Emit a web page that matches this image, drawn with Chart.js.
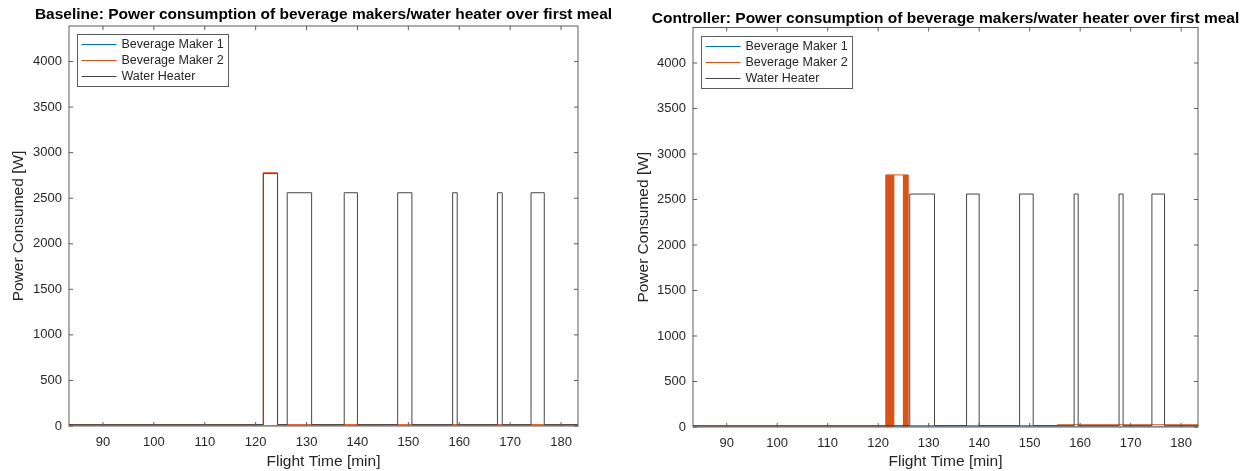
<!DOCTYPE html>
<html>
<head>
<meta charset="utf-8">
<script src="https://cdn.jsdelivr.net/npm/chart.js@4.4.0/dist/chart.umd.min.js"></script>
<style>
  html, body { margin: 0; padding: 0; background: #fff; }
  #wrap { position: relative; width: 1247px; height: 471px; overflow: hidden; }
  canvas { position: absolute; top: 0; }
  #baseline { left: 0; }
  #controller { left: 620px; }
</style>
</head>
<body>
<div id="wrap">
  <canvas id="baseline" width="620" height="471"></canvas>
  <canvas id="controller" width="627" height="471"></canvas>
</div>
<script>
// Flight time window and tick values shared by both panels
const timeRange = [83.33, 183.33];
const timeTicks = [90, 100, 110, 120, 130, 140, 150, 160, 170, 180];
const powerTicks = [0, 500, 1000, 1500, 2000, 2500, 3000, 3500, 4000];
const powerMax = 4390;

// Baseline run: switch times [min] and the power held from each time on [W]
const baseMaker1Times = [83.33, 183.33];
const baseMaker1Power = [0, 0];
const baseMaker2Times = [83.33, 121.5, 124.3, 183.33];
const baseMaker2Power = [15, 2780, 15, 15];
const baseHeaterTimes = [83.33, 121.5, 124.3, 126.2, 131.0, 137.4, 140.0, 147.9, 150.7, 158.7, 159.6, 167.5, 168.45, 174.1, 176.7, 183.33];
const baseHeaterPower = [15, 2770, 15, 2560, 15, 2560, 15, 2560, 15, 2560, 15, 2560, 15, 2560, 15, 15];

// Controller run
const ctrlMaker1Times = [83.33, 183.33];
const ctrlMaker1Power = [0, 0];
const ctrlMaker2Times = [83.33, 121.5, 125.95, 155.5, 183.33];
const ctrlMaker2Power = [0, 2770, 15, 25, 25];
// stretches where maker 2 switches on/off faster than the plot can resolve
const ctrlMaker2CycleStart = [121.5, 124.85];
const ctrlMaker2CycleEnd = [123.25, 125.95];
const ctrlMaker2CyclePower = 2770;
const ctrlHeaterTimes = [83.33, 126.25, 131.15, 137.5, 140.0, 148.0, 150.7, 158.8, 159.6, 167.7, 168.5, 174.2, 176.7, 183.33];
const ctrlHeaterPower = [15, 2560, 15, 2560, 15, 2560, 15, 2560, 15, 2560, 15, 2560, 15, 15];

const FONT = "'Liberation Sans', Arial, Helvetica, sans-serif";
const AXIS_COLOR = '#5c5c5c';
const TEXT_COLOR = '#262626';
const BLUE = '#0072BD';
const ORANGE = '#D95319';
const BLACK = '#454545';

function stepSeries(label, times, power, color, order) {
    return {
        label: label,
        data: times.map((t, i) => ({ x: t, y: power[i] })),
        borderColor: color,
        lineColor: color,
        borderWidth: 1,
        stepped: 'before',
        pointRadius: 0,
        fill: false,
        order: order
    };
}

function cycleBands(starts, ends, level) {
    return starts.map((s, i) => ({
        label: '',
        data: [{ x: s, y: level }, { x: ends[i], y: level }],
        borderWidth: 0,
        borderColor: ORANGE,
        backgroundColor: ORANGE,
        pointRadius: 0,
        fill: 'origin',
        order: 1
    }));
}

// box around the axes with inward ticks on all four sides, drawn over the data
const frame = {
    id: 'frame',
    afterDatasetsDraw(chart) {
        const { ctx, chartArea: a, scales: { x, y } } = chart;
        ctx.save();
        ctx.strokeStyle = AXIS_COLOR;
        ctx.lineWidth = 1;
        ctx.strokeRect(a.left, a.top, a.right - a.left, a.bottom - a.top);
        ctx.beginPath();
        timeTicks.forEach(t => {
            const px = x.getPixelForValue(t);
            ctx.moveTo(px, a.bottom); ctx.lineTo(px, a.bottom - 4);
            ctx.moveTo(px, a.top); ctx.lineTo(px, a.top + 4);
        });
        powerTicks.forEach(p => {
            const py = y.getPixelForValue(p);
            ctx.moveTo(a.left, py); ctx.lineTo(a.left + 4, py);
            ctx.moveTo(a.right, py); ctx.lineTo(a.right - 4, py);
        });
        ctx.stroke();
        ctx.restore();
    }
};

const panelTitle = {
    id: 'panelTitle',
    afterDraw(chart, args, opts) {
        const { ctx, chartArea: a } = chart;
        ctx.save();
        ctx.font = 'bold 15.5px ' + FONT;
        ctx.fillStyle = '#000';
        ctx.textAlign = 'center';
        ctx.textBaseline = 'middle';
        ctx.fillText(opts.text, (a.left + a.right) / 2, opts.y);
        ctx.restore();
    }
};

// legend box in the top-left corner of the axes
const boxLegend = {
    id: 'boxLegend',
    afterDraw(chart) {
        const { ctx, chartArea: a } = chart;
        const items = chart.data.datasets.filter(d => d.label);
        const left = Math.round(a.left + 8) + 0.5, top = Math.round(a.top + 8) + 0.5, w = 151, h = 52;
        ctx.save();
        ctx.fillStyle = '#fff';
        ctx.fillRect(left, top, w, h);
        ctx.strokeStyle = AXIS_COLOR;
        ctx.lineWidth = 1;
        ctx.strokeRect(left, top, w, h);
        ctx.font = '12.5px ' + FONT;
        ctx.textBaseline = 'middle';
        items.forEach((d, i) => {
            const ry = top + 10 + i * 16;
            ctx.strokeStyle = d.lineColor;
            ctx.lineWidth = 1;
            ctx.beginPath();
            ctx.moveTo(left + 4, ry);
            ctx.lineTo(left + 39, ry);
            ctx.stroke();
            ctx.fillStyle = TEXT_COLOR;
            ctx.fillText(d.label, left + 44, ry);
        });
        ctx.restore();
    }
};

function makePanel(canvasId, title, titleY, datasets, box) {
    const ctx = document.getElementById(canvasId).getContext('2d');
    new Chart(ctx, {
        type: 'line',
        data: { datasets: datasets },
        options: {
            responsive: false,
            animation: false,
            events: [],
            layout: { padding: { left: 0, right: box.right, top: box.top, bottom: 0 } },
            plugins: {
                legend: { display: false },
                tooltip: { enabled: false },
                panelTitle: { text: title, y: titleY }
            },
            scales: {
                x: {
                    type: 'linear',
                    min: timeRange[0],
                    max: timeRange[1],
                    afterBuildTicks: s => { s.ticks = timeTicks.map(v => ({ value: v })); },
                    afterFit: s => { s.height = box.xHeight; },
                    grid: { display: false, drawTicks: false },
                    border: { display: false },
                    ticks: {
                        autoSkip: false, maxRotation: 0, padding: 9,
                        color: TEXT_COLOR, font: { family: FONT, size: 13 },
                        callback: v => String(v)
                    },
                    title: {
                        display: true, text: 'Flight Time [min]', color: TEXT_COLOR,
                        font: { family: FONT, size: 15.5 }, padding: { top: 0, bottom: 0 }
                    }
                },
                y: {
                    type: 'linear',
                    min: 0,
                    max: powerMax,
                    afterBuildTicks: s => { s.ticks = powerTicks.map(v => ({ value: v })); },
                    afterFit: s => { s.width = box.yWidth; },
                    grid: { display: false, drawTicks: false },
                    border: { display: false },
                    ticks: {
                        padding: 7, color: TEXT_COLOR, font: { family: FONT, size: 13 },
                        callback: v => String(v)
                    },
                    title: {
                        display: true, text: 'Power Consumed [W]', color: TEXT_COLOR,
                        font: { family: FONT, size: 15.5 }, padding: { top: box.yTitlePad, bottom: 0 }
                    }
                }
            }
        },
        plugins: [frame, panelTitle, boxLegend]
    });
}

makePanel('baseline',
    'Baseline: Power consumption of beverage makers/water heater over first meal', 15,
    [
        stepSeries('Beverage Maker 1', baseMaker1Times, baseMaker1Power, BLUE, 3),
        stepSeries('Beverage Maker 2', baseMaker2Times, baseMaker2Power, ORANGE, 2),
        stepSeries('Water Heater', baseHeaterTimes, baseHeaterPower, BLACK, 0)
    ],
    { right: 42, top: 26, xHeight: 45, yWidth: 69, yTitlePad: 9 });

makePanel('controller',
    'Controller: Power consumption of beverage makers/water heater over first meal', 19,
    [
        stepSeries('Beverage Maker 1', ctrlMaker1Times, ctrlMaker1Power, BLUE, 3),
        stepSeries('Beverage Maker 2', ctrlMaker2Times, ctrlMaker2Power, ORANGE, 2),
        stepSeries('Water Heater', ctrlHeaterTimes, ctrlHeaterPower, BLACK, 0)
    ].concat(cycleBands(ctrlMaker2CycleStart, ctrlMaker2CycleEnd, ctrlMaker2CyclePower)),
    { right: 49, top: 27.5, xHeight: 44, yWidth: 73, yTitlePad: 14 });
</script>
</body>
</html>
